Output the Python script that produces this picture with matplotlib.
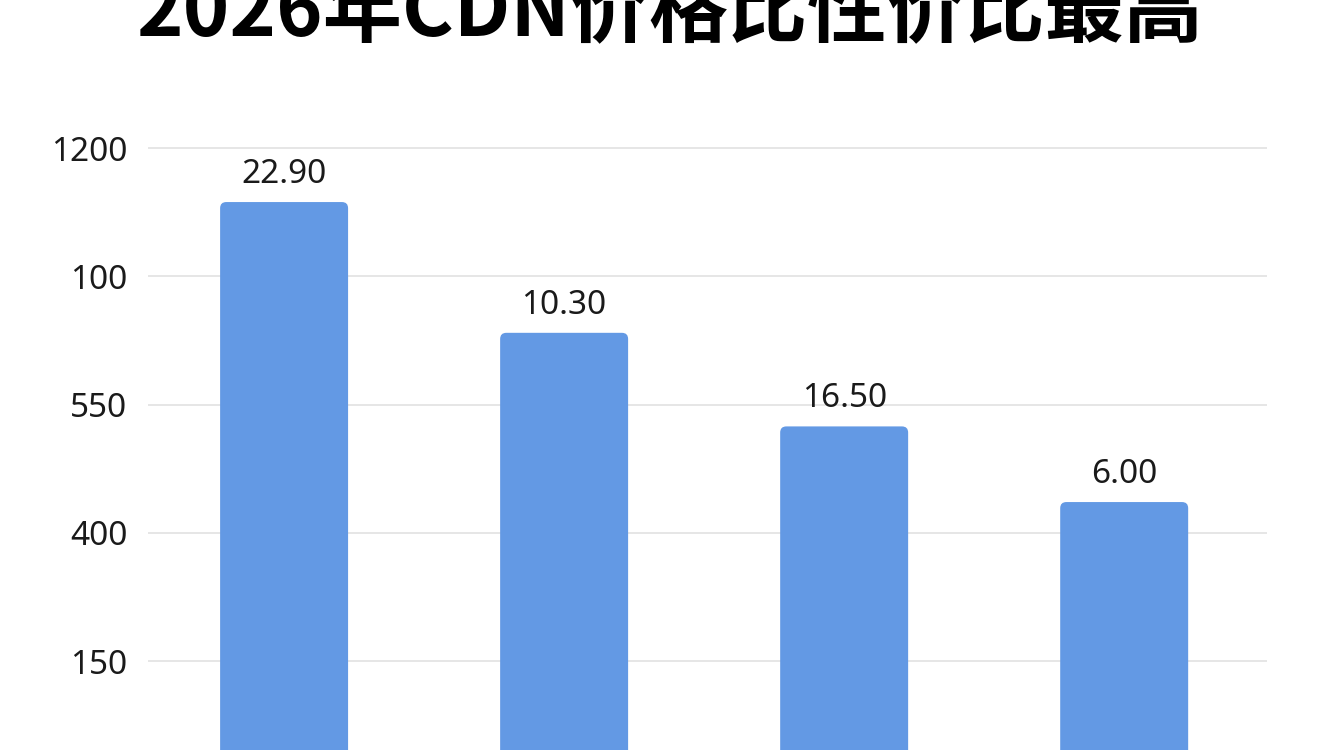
import matplotlib.pyplot as plt
from matplotlib.patches import FancyBboxPatch

plt.rcParams['font.family'] = ['Noto Sans', 'Noto Sans CJK SC', 'DejaVu Sans']

# --- data ---
title = '2026年CDN价格比性价比最高'
bar_heights = [4.58, 3.56, 2.83, 2.24]
bar_labels = ['22.90', '10.30', '16.50', '6.00']
tick_pos = [1, 2, 3, 4, 5]
tick_labels = ['150', '400', '550', '100', '1200']

bar_color = '#6399e4'

fig = plt.figure(figsize=(13.44, 7.5), dpi=100)
fig.patch.set_facecolor('white')

# axes spans the gridline extent horizontally, full height vertically
ax = fig.add_axes([148 / 1344, 0, (1267 - 148) / 1344, 1])
ax.set_xlim(-0.486, 3.51)
ax.set_ylim(0.306, 6.156)

x = list(range(len(bar_heights)))
bars = ax.bar(x, bar_heights, width=0.457, color=bar_color, zorder=3)

# swap plain rectangles for ones with slightly rounded corners
aspect = (3.996 / 1119) / (5.85 / 750)
for b in bars:
    rb = FancyBboxPatch((b.get_x(), b.get_y()), b.get_width(), b.get_height(),
                        boxstyle='round,pad=0,rounding_size=0.022',
                        mutation_aspect=1 / aspect,
                        facecolor=bar_color, edgecolor='none', zorder=3)
    ax.add_patch(rb)
    b.set_visible(False)

for xi, h, lab in zip(x, bar_heights, bar_labels):
    ax.annotate(lab, (xi, h), xytext=(0, 19), textcoords='offset pixels',
                ha='center', va='baseline', fontsize=24, color='#1a1a1a', zorder=4)

ax.set_yticks(tick_pos)
ax.set_yticklabels(tick_labels, fontsize=24, color='#1a1a1a')
ax.tick_params(axis='y', length=0, pad=15)
ax.set_xticks([])
ax.grid(axis='y', color='#e4e4e4', linewidth=1.3, zorder=0)
for s in ax.spines.values():
    s.set_visible(False)
ax.set_facecolor('none')

# title is cropped at the top edge in the reference
fig.text(0.498, 0.952, title, ha='center', va='baseline', fontsize=57,
         fontweight='bold', color='black',
         family=['Noto Sans CJK SC', 'DejaVu Sans'])

fig.savefig('out.png', dpi=100)
